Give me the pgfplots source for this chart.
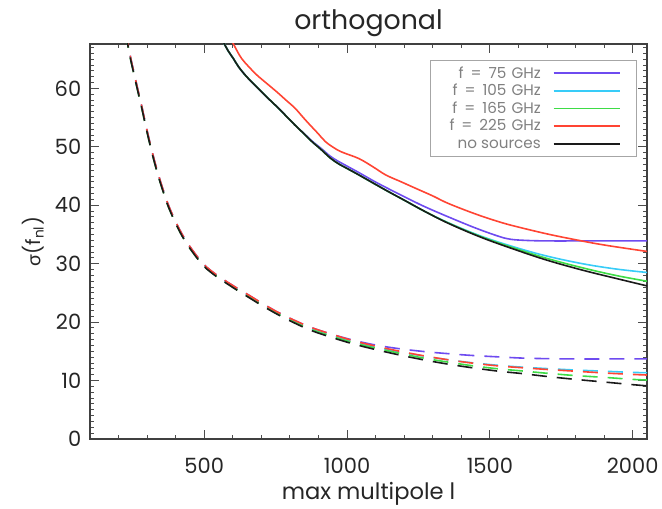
\documentclass[border=0pt]{standalone}
\usepackage{fontspec}
\setmainfont{Poppins}
\newfontfamily\greekfont{Lato}
\usepackage{pgfplots}
\pgfplotsset{compat=1.18}
\definecolor{cblue}{RGB}{110,75,240}
\definecolor{ccyan}{RGB}{56,204,248}
\definecolor{cgreen}{RGB}{62,220,70}
\definecolor{cred}{RGB}{255,68,51}
\definecolor{cblack}{RGB}{26,26,26}
\newcommand{\eq}{\hspace{3.5pt}=\hspace{3.5pt}}
\begin{document}
\begin{tikzpicture}
\begin{axis}[
  scale only axis, width=278.5pt, height=197.5pt,
  xmin=100, xmax=2050, ymin=0, ymax=67.6,
  xtick={500,1000,1500,2000}, minor xtick={100,200,...,2000},
  ytick={0,10,...,60}, minor ytick={0,1,...,67},
  major tick length=4.3pt, minor tick length=2.2pt,
  tick align=inside,
  axis line style={black!75, line width=0.7pt},
  every tick/.style={black!70, line width=0.5pt},
  /pgf/number format/assume math mode=true,
  /pgf/number format/1000 sep={},
  tick label style={font=\fontsize{10.5}{12}\selectfont, text=black!85, inner sep=0pt},
  xticklabel style={anchor=base, yshift=-17.2pt},
  yticklabel style={anchor=east, xshift=-4.2pt},
  every axis title shift=0pt,
  title={orthogonal},
  title style={at={(axis description cs:0.5,1.037)}, anchor=base, inner sep=0pt, font=\fontsize{13.4}{15}\selectfont, text=black!85},
  xlabel={max multipole l},
  xlabel style={at={(axis description cs:0.5,-0.1544)}, anchor=base, inner sep=0pt, font=\fontsize{11.3}{13}\selectfont, text=black!85},
  ylabel={{\greekfont σ}(f\textsubscript{nl})},
  ylabel style={at={(axis description cs:-0.1023,0.5)}, anchor=center, inner sep=0pt, font=\fontsize{9.8}{12}\selectfont, text=black!85},
  legend plot pos=right,
  legend cell align=right,
  legend image code/.code={\draw[#1, line width=0.9pt] (0pt,0pt) -- (33pt,0pt); \path (33.5pt,0pt);},
  legend style={at={(rel axis cs:0.982,0.9595)}, anchor=north east,
    draw=black!35, line width=0.5pt, font=\fontsize{7.6}{8}\selectfont, text=black!50,
    inner xsep=7.5pt, inner ysep=2pt,
    nodes={inner ysep=0.95pt, text height=5.9pt, text depth=1.0pt},
    /tikz/every odd column/.append style={column sep=4pt}},
]
% solid curves
\addplot[cblue, line width=0.8pt, smooth, tension=0.6] coordinates {
(556,68.9)(566,68.0)(584,66.4)(602,65.1)(620,63.7)(643,62.3)(670,60.9)(701,59.4)(730,58.0)(760,56.6)(790,55.1)(818,53.7)(850,52.25)(877,51.0)(910,49.7)(941,48.4)(970,47.5)(1000,46.7)(1041,45.6)(1095,44.1)(1146,42.8)(1199,41.5)(1270,39.8)(1355,38.0)(1450,36.1)(1530,34.7)(1570,34.2)(1620,34.0)(1700,33.9)(1850,33.9)(2050,33.9)};
\addlegendentry{f\eq 75\hspace{2.5pt}GHz}
\addplot[ccyan, line width=0.8pt, smooth, tension=0.6] coordinates {
(556,68.9)(566,68.0)(584,66.4)(602,65.1)(620,63.7)(643,62.3)(670,60.9)(701,59.4)(730,58.0)(760,56.6)(790,55.1)(818,53.7)(850,52.2)(877,50.9)(910,49.5)(941,48.1)(970,47.1)(1000,46.3)(1041,45.2)(1095,43.7)(1146,42.3)(1199,40.9)(1270,39.0)(1355,37.0)(1470,34.7)(1589,32.8)(1700,31.3)(1824,30.0)(1940,29.1)(2050,28.5)};
\addlegendentry{f\eq 105\hspace{2.5pt}GHz\hspace{3.3pt}}
\addplot[cgreen, line width=0.8pt, smooth, tension=0.6] coordinates {
(556,68.9)(566,68.0)(584,66.4)(602,65.1)(620,63.7)(643,62.3)(670,60.9)(701,59.4)(730,58.0)(760,56.6)(790,55.1)(818,53.7)(850,52.2)(877,50.9)(910,49.5)(941,48.1)(970,47.1)(1000,46.3)(1041,45.2)(1095,43.7)(1146,42.3)(1199,40.9)(1270,39.0)(1355,36.95)(1470,34.6)(1589,32.6)(1700,30.9)(1824,29.3)(1940,28.0)(2050,27.0)};
\addlegendentry{f\eq 165\hspace{2.5pt}GHz}
\addplot[cred, line width=0.8pt, smooth, tension=0.6] coordinates {
(590,68.7)(598,68.0)(614,66.5)(631,65.1)(656,63.7)(684,62.3)(720,60.8)(754,59.4)(786,58.0)(818,56.6)(845,55.1)(871,53.7)(898,52.3)(924,50.9)(952,49.9)(982,49.1)(1041,48.0)(1090,46.6)(1135,45.2)(1190,44.0)(1240,42.9)(1300,41.6)(1355,40.3)(1450,38.5)(1530,37.2)(1589,36.4)(1700,35.1)(1800,34.1)(1900,33.2)(2050,32.1)};
\addlegendentry{f\eq 225\hspace{2.5pt}GHz}
\addplot[cblack, line width=0.8pt, smooth, tension=0.6] coordinates {
(556,68.9)(566,68.0)(584,66.4)(602,65.1)(620,63.7)(643,62.3)(670,60.9)(701,59.4)(730,58.0)(760,56.6)(790,55.1)(818,53.7)(850,52.2)(877,50.9)(910,49.5)(941,48.1)(970,47.1)(1000,46.3)(1041,45.2)(1095,43.7)(1146,42.3)(1199,40.9)(1270,39.0)(1355,36.9)(1470,34.5)(1589,32.4)(1700,30.6)(1824,28.9)(1940,27.5)(2050,26.2)};
\addlegendentry{no sources}
% dashed curves
\addplot[cblue, line width=0.8pt, dash pattern=on 7.5pt off 5pt, smooth, tension=0.6, forget plot] coordinates {
(225,69.8)(231,68.1)(242,65.3)(254,62.7)(267,59.9)(280,57.2)(292,54.5)(305,51.7)(320,48.7)(336,45.8)(355,42.8)(374,40.1)(400,37.2)(430,34.4)(465,31.9)(500,29.8)(540,28.2)(570,27.2)(617,25.75)(660,24.5)(700,23.3)(769,21.4)(863,19.3)(945,17.95)(1027,16.85)(1109,16.0)(1191,15.4)(1273,14.95)(1355,14.6)(1437,14.3)(1531,14.05)(1612,13.85)(1700,13.75)(1800,13.7)(1900,13.7)(2050,13.7)};
\addplot[ccyan, line width=0.8pt, dash pattern=on 7.5pt off 5pt, smooth, tension=0.6, forget plot] coordinates {
(225,69.7)(231,68.0)(242,65.2)(254,62.6)(267,59.8)(280,57.1)(292,54.4)(305,51.6)(320,48.6)(336,45.7)(355,42.7)(374,40.0)(400,37.1)(430,34.3)(465,31.8)(500,29.7)(540,28.1)(570,27.1)(617,25.6)(660,24.3)(700,23.1)(769,21.2)(863,19.1)(945,17.75)(1027,16.6)(1109,15.65)(1191,14.85)(1273,14.15)(1355,13.55)(1437,13.05)(1531,12.6)(1612,12.3)(1700,12.05)(1800,11.8)(1900,11.6)(2000,11.4)(2050,11.35)};
\addplot[cgreen, line width=0.8pt, dash pattern=on 7.5pt off 5pt, smooth, tension=0.6, forget plot] coordinates {
(225,69.5)(231,67.8)(242,65.0)(254,62.4)(267,59.6)(280,56.9)(292,54.2)(305,51.4)(320,48.4)(336,45.5)(355,42.5)(374,39.8)(400,36.9)(430,34.1)(465,31.6)(500,29.55)(540,27.95)(570,26.95)(617,25.45)(660,24.2)(700,23.0)(769,21.1)(863,18.95)(945,17.6)(1027,16.4)(1109,15.45)(1191,14.6)(1273,13.8)(1355,13.15)(1437,12.55)(1531,12.0)(1612,11.65)(1700,11.25)(1800,10.85)(1900,10.55)(2000,10.2)(2050,10.1)};
\addplot[cred, line width=0.8pt, dash pattern=on 7.5pt off 5pt, smooth, tension=0.6, forget plot] coordinates {
(225,69.8)(231,68.1)(242,65.3)(254,62.7)(267,59.9)(280,57.2)(292,54.5)(305,51.7)(320,48.7)(336,45.8)(355,42.8)(374,40.1)(400,37.2)(430,34.4)(465,31.9)(500,29.8)(540,28.2)(570,27.2)(617,25.75)(660,24.5)(700,23.3)(769,21.4)(863,19.3)(945,17.95)(1027,16.75)(1109,15.8)(1191,14.95)(1273,14.2)(1355,13.55)(1437,13.0)(1531,12.5)(1612,12.2)(1700,11.9)(1800,11.6)(1900,11.3)(2000,11.05)(2050,10.95)};
\addplot[cblack, line width=0.8pt, dash pattern=on 7.5pt off 5pt, smooth, tension=0.6, forget plot] coordinates {
(225,69.5)(231,67.8)(242,65.0)(254,62.4)(267,59.6)(280,56.9)(292,54.2)(305,51.4)(320,48.4)(336,45.5)(355,42.5)(374,39.8)(400,36.9)(430,34.1)(465,31.6)(500,29.5)(540,27.9)(570,26.9)(617,25.4)(660,24.1)(700,22.9)(769,21.0)(863,18.8)(945,17.4)(1027,16.2)(1109,15.2)(1191,14.3)(1273,13.5)(1355,12.8)(1437,12.2)(1531,11.6)(1612,11.2)(1700,10.7)(1800,10.2)(1900,9.75)(2000,9.3)(2050,9.1)};
\end{axis}
\path ([xshift=-45pt,yshift=-34.5pt]current axis.south west) rectangle ([xshift=7.5pt,yshift=22pt]current axis.north east);
\end{tikzpicture}
\end{document}
